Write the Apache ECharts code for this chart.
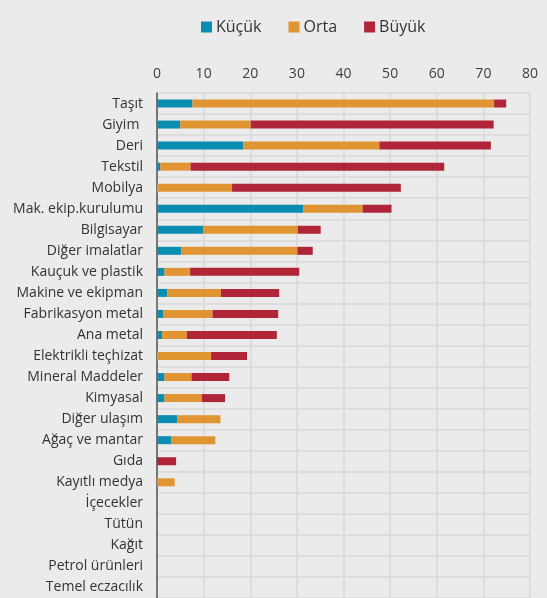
<!DOCTYPE html>
<html>
<head>
<meta charset="utf-8">
<script src="https://cdn.jsdelivr.net/npm/echarts@6/dist/echarts.min.js"></script>
<style>
  html, body { margin: 0; padding: 0; background: #ebebeb; }
  #chart { width: 547px; height: 598px; }
</style>
</head>
<body>
<div id="chart"></div>
<script>
// Sectors (top to bottom)
const sectors = [
  'Taşıt', 'Giyim ', 'Deri', 'Tekstil', 'Mobilya', 'Mak. ekip.kurulumu',
  'Bilgisayar', 'Diğer imalatlar', 'Kauçuk ve plastik', 'Makine ve ekipman',
  'Fabrikasyon metal', 'Ana metal', 'Elektrikli teçhizat', 'Mineral Maddeler',
  'Kimyasal', 'Diğer ulaşım', 'Ağaç ve mantar', 'Gıda', 'Kayıtlı medya',
  'İçecekler', 'Tütün', 'Kağıt', 'Petrol ürünleri', 'Temel eczacılık'
];

// Stacked values per firm size
const kucuk = [7.6, 5.0, 18.5, 0.7, 0, 31.4, 9.9, 5.2, 1.6, 2.2, 1.4, 1.1, 0, 1.6, 1.6, 4.4, 3.1, 0, 0, 0, 0, 0, 0, 0];
const orta  = [64.7, 15.1, 29.2, 6.5, 16.1, 12.7, 20.3, 24.9, 5.5, 11.5, 10.5, 5.3, 11.6, 5.8, 8.0, 9.2, 9.4, 0, 3.8, 0, 0, 0, 0, 0];
const buyuk = [2.6, 52.1, 23.9, 54.4, 36.2, 6.2, 4.9, 3.3, 23.4, 12.5, 14.1, 19.3, 7.7, 8.1, 5.0, 0, 0, 4.1, 0, 0, 0, 0, 0, 0];

const xTicks = { min: 0, max: 80, interval: 10 };

const chart = echarts.init(document.getElementById('chart'));

const fontFamily = '"Open Sans", sans-serif';

const barSeries = (name, data, color) => ({
  name: name,
  type: 'bar',
  stack: 'total',
  data: data,
  barWidth: 8,
  itemStyle: { color: color },
  emphasis: { disabled: true }
});

chart.setOption({
  backgroundColor: '#ebebeb',
  animation: false,
  textStyle: { fontFamily: fontFamily },
  legend: {
    left: 196,
    top: 14,
    itemWidth: 11,
    itemHeight: 11,
    itemGap: 27,
    icon: 'rect',
    textStyle: { fontSize: 16, color: '#333', fontFamily: fontFamily, padding: [0, 0, 0, -1] },
    data: ['Küçük', 'Orta', 'Büyük']
  },
  grid: { left: 157, right: 17, top: 93, height: 508 },
  xAxis: {
    type: 'value',
    position: 'top',
    min: xTicks.min,
    max: xTicks.max,
    interval: xTicks.interval,
    axisLine: { show: false },
    axisTick: { show: false },
    axisLabel: { color: '#404040', fontSize: 14, margin: 12 },
    splitLine: { lineStyle: { color: '#d9d9d9', width: 1.5 } }
  },
  yAxis: {
    type: 'category',
    inverse: true,
    data: sectors,
    axisLine: { lineStyle: { color: '#555', width: 1.5 } },
    axisTick: { length: 4, lineStyle: { color: '#555', width: 1.5 } },
    axisLabel: { color: '#333', fontSize: 14, margin: 14 },
    splitLine: { show: true, lineStyle: { color: '#d9d9d9', width: 1.5 } }
  },
  series: [
    barSeries('Küçük', kucuk, '#0a8db0'),
    barSeries('Orta', orta, '#e09432'),
    barSeries('Büyük', buyuk, '#b02537')
  ]
});

window.addEventListener('resize', () => chart.resize());
</script>
</body>
</html>
